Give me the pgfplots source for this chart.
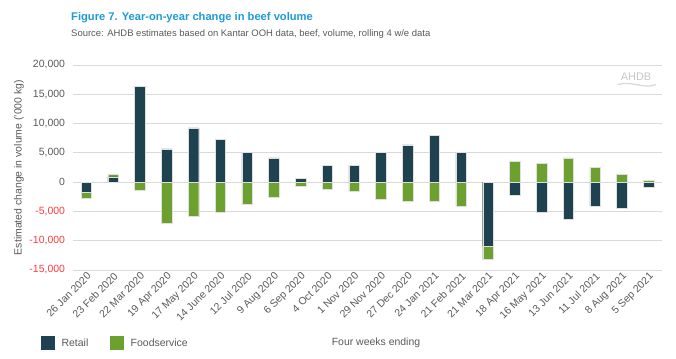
\documentclass[border=0pt]{standalone}
\usepackage{pgfplots}
\pgfplotsset{compat=1.18}
\usepackage{pgfplotstable}
\usepackage{fontspec}
\setmainfont{Liberation Sans}
\definecolor{retail}{HTML}{1F4251}
\definecolor{food}{HTML}{6CA130}
\definecolor{ttl}{HTML}{1E9AD6}
\definecolor{txt}{HTML}{595959}
\definecolor{neg}{HTML}{FF3B3B}
\definecolor{grd}{HTML}{D9D9D9}

\pgfplotstableread{
idx r fs
0 -1670 -1030
1 920 460
2 16320 -1320
3 5690 -7070
4 9250 -5800
5 7300 -5110
6 5060 -3850
7 4140 -2590
8 630 -630
9 2870 -1260
10 2870 -1610
11 5060 -2870
12 6380 -3220
13 7990 -3220
14 5060 -4140
15 -10920 -2300
16 -2180 3510
17 -5110 3220
18 -6380 4140
19 -4080 2530
20 -4430 1320
21 -920 350
}\data

\begin{document}
\begin{tikzpicture}
\begin{axis}[
 scale only axis, width=589bp, height=205bp,
 xmin=-0.5, xmax=21.5, ymin=-15000, ymax=20000,
 ybar, bar width=10.5bp, bar shift=0pt,
 scaled y ticks=false,
 ytick={-15000,-10000,...,20000},
 yticklabels={{\color{neg}-15,000},{\color{neg}-10,000},{\color{neg}-5,000},0,{5,000},{10,000},{15,000},{20,000}},
 xtick={0,...,21},
 xticklabels={26 Jan 2020,23 Feb 2020,22 Mar 2020,19 Apr 2020,17 May 2020,14 June 2020,12 Jul 2020,9 Aug 2020,6 Sep 2020,4 Oct 2020,1 Nov 2020,29 Nov 2020,27 Dec 2020,24 Jan 2021,21 Feb 2021,21 Mar 2021,18 Apr 2021,16 May 2021,13 Jun 2021,11 Jul 2021,8 Aug 2021,5 Sep 2021},
 ymajorgrids, grid style={grd, line width=0.9bp},
 axis line style={draw=none}, major tick length=0pt,
 tick label style={font=\fontsize{10.5}{12}\selectfont, text=txt},
 yticklabel style={xshift=-4.5bp},
 xticklabel style={rotate=45, anchor=north east, inner sep=1bp},
 ylabel={Estimated change in volume ('000 kg)},
 ylabel style={at={(rel axis cs:-0.0917,0.5)}, anchor=center, font=\fontsize{10.5}{12}\selectfont, text=txt},
 xlabel={Four weeks ending},
 xlabel style={at={(rel axis cs:0.5144,-0.356)}, anchor=center, font=\fontsize{10.5}{12}\selectfont, text=txt},
 legend columns=2,
 legend style={at={(rel axis cs:-0.0543,-0.356)}, anchor=west, draw=none, fill=none, inner sep=0pt,
   font=\fontsize{10.5}{12}\selectfont, text=txt,
   /tikz/every odd column/.append style={column sep=5bp},
   /tikz/every even column/.append style={column sep=20bp}},
]
\coordinate (pl) at (rel axis cs:0,0);
\coordinate (pr) at (rel axis cs:1,1);
\addlegendimage{legend image code/.code={\fill[retail] (0bp,-6.5bp) rectangle (13bp,6.5bp);}}
\addlegendentry{Retail}
\addlegendimage{legend image code/.code={\fill[food] (0bp,-6.5bp) rectangle (13bp,6.5bp);}}
\addlegendentry{Foodservice}
\addplot[fill=food, draw=white!75!gray, line width=0.4bp, forget plot]
  table[x=idx, y expr={((\thisrow{fs}>0)==(\thisrow{r}>0)) ? (\thisrow{fs}+\thisrow{r}) : \thisrow{fs}}] {\data};
\addplot[fill=retail, draw=white!75!gray, line width=0.4bp, forget plot]
  table[x=idx, y=r] {\data};
\node[text=gray!45, font=\fontsize{11}{12}\selectfont] at (rel axis cs:0.956,0.945) {AHDB};
\draw[gray!30, line width=1.3bp] (rel axis cs:0.925,0.905) .. controls (rel axis cs:0.95,0.925) and (rel axis cs:0.97,0.88) .. (rel axis cs:0.99,0.905);
\end{axis}
\node[anchor=base west, font=\fontsize{11.2}{13}\selectfont\bfseries, text=ttl, inner sep=0pt] at ([xshift=-2bp,yshift=44bp]pl |- pr) {Figure 7. Year-on-year change in beef volume};
\node[anchor=base west, font=\fontsize{9.5}{11}\selectfont, text=txt, inner sep=0pt] at ([xshift=-2bp,yshift=28bp]pl |- pr) {Source: AHDB estimates based on Kantar OOH data, beef, volume, rolling 4 w/e data};
\pgfresetboundingbox
\path[use as bounding box] ([xshift=-73bp,yshift=-89bp]pl) rectangle ([xshift=14bp,yshift=65bp]pr);
\end{tikzpicture}
\end{document}
